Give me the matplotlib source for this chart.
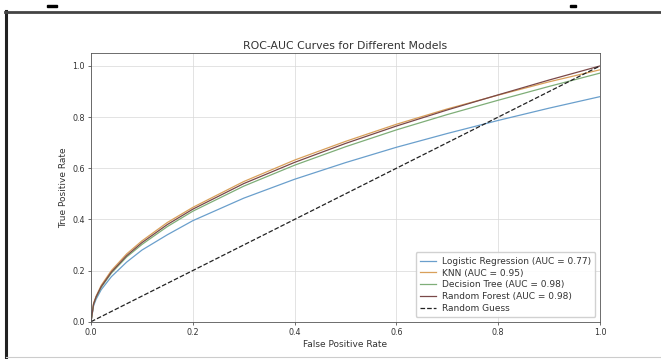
import matplotlib.pyplot as plt
from matplotlib.lines import Line2D
from matplotlib.patches import Rectangle

# values
fpr = [0.0, 0.005, 0.01, 0.02, 0.04, 0.07, 0.1, 0.15, 0.2, 0.3, 0.4, 0.5, 0.6, 0.7, 0.8, 0.9, 1.0]
tpr_lr = [0.0, 0.062, 0.088, 0.125, 0.176, 0.233, 0.28, 0.34, 0.395, 0.483, 0.557, 0.622, 0.682, 0.736, 0.787, 0.835, 0.88]
tpr_knn = [0.0, 0.072, 0.10, 0.142, 0.20, 0.265, 0.316, 0.388, 0.447, 0.548, 0.632, 0.705, 0.772, 0.832, 0.886, 0.938, 0.985]
tpr_dt = [0.0, 0.067, 0.095, 0.134, 0.19, 0.253, 0.302, 0.372, 0.432, 0.53, 0.612, 0.684, 0.75, 0.81, 0.866, 0.92, 0.972]
tpr_rf = [0.0, 0.069, 0.097, 0.137, 0.194, 0.258, 0.309, 0.38, 0.44, 0.54, 0.623, 0.697, 0.765, 0.828, 0.887, 0.945, 1.0]
labels = ['Logistic Regression (AUC = 0.77)', 'KNN (AUC = 0.95)',
          'Decision Tree (AUC = 0.98)', 'Random Forest (AUC = 0.98)']
guess = [0.0, 1.0]

fig = plt.figure(figsize=(6.61, 3.59), dpi=100)
ax = fig.add_axes([0.1377, 0.1039, 0.77, 0.748])

ax.plot(fpr, tpr_lr, color='#6a9fcc', lw=0.9, label=labels[0])
ax.plot(fpr, tpr_knn, color='#d9a05a', lw=0.9, label=labels[1])
ax.plot(fpr, tpr_dt, color='#7fae78', lw=0.9, label=labels[2])
ax.plot(fpr, tpr_rf, color='#7a4848', lw=0.9, label=labels[3])
ax.plot(guess, guess, color='#222222', ls='--', lw=0.9, label='Random Guess')

ax.set_xlim(0, 1)
ax.set_ylim(0, 1.05)
ax.set_xticks([0, 0.2, 0.4, 0.6, 0.8, 1.0])
ax.set_yticks([0, 0.2, 0.4, 0.6, 0.8, 1.0])
ax.tick_params(labelsize=5.8, length=2.5, width=0.5, pad=2, colors='#333333')
ax.grid(True, lw=0.5, color='#d8d8d8')
for s in ax.spines.values():
    s.set_linewidth(0.6)
    s.set_color('#555555')

ax.set_title('ROC-AUC Curves for Different Models', fontsize=7.8, pad=3, color='#333333')
ax.set_xlabel('False Positive Rate', fontsize=6.5, labelpad=2, color='#333333')
ax.set_ylabel('True Positive Rate', fontsize=6.5, labelpad=3, color='#333333')
ax.legend(loc='lower right', fontsize=6.5, handlelength=1.8, labelspacing=0.3,
          borderpad=0.5, handletextpad=0.6, fancybox=True, framealpha=0.9,
          labelcolor='#333333')

# screenshot frame around the figure
fig.add_artist(Line2D([0.009, 0.009], [0.0, 0.968], transform=fig.transFigure, color='#222222', lw=2.2))
fig.add_artist(Line2D([0.008, 1.0], [0.966, 0.966], transform=fig.transFigure, color='#444444', lw=2.0))
fig.add_artist(Line2D([0.009, 1.0], [0.006, 0.006], transform=fig.transFigure, color='#cccccc', lw=0.8))
fig.add_artist(Rectangle((0.071, 0.9805), 0.015, 0.0065, transform=fig.transFigure, color='black'))
fig.add_artist(Rectangle((0.862, 0.9805), 0.01, 0.0065, transform=fig.transFigure, color='black'))

fig.savefig('out.png', dpi=100)
